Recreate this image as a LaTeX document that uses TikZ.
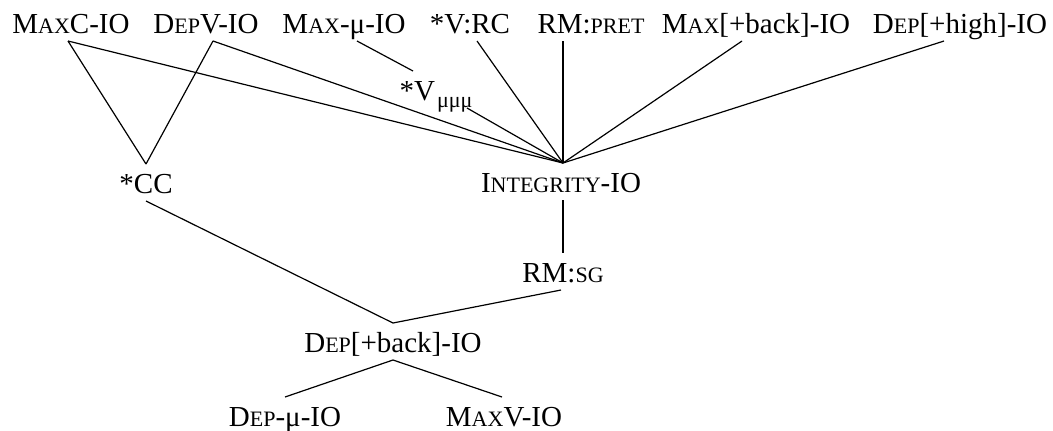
\documentclass[tikz,border=0pt]{standalone}
\usepackage{fontspec}
\setmainfont{Liberation Serif}
\usepackage{tikz}
\newcommand{\smc}[1]{{\fontsize{11}{11}\selectfont #1}}

\begin{document}
\begin{tikzpicture}[x=0.5pt,y=-0.5pt,line width=0.6pt]
    \tikzset{rank node/.style={anchor=base,inner sep=0pt,outer sep=2.5pt,text height=12pt,text depth=1.5pt,font=\fontsize{14.5}{16}\selectfont}}
    \useasboundingbox (0,0) rectangle (1053,430);
    % Nodes
    \node (max_c) [rank node] at (71,33) {M\smc{AX}C-IO};
    \node (dep_v) [rank node] at (206,33) {D\smc{EP}V-IO};
    \node (max_mu) [rank node] at (344,33) {M\smc{AX}-μ-IO};
    \node (v_rc) [rank node] at (470,33) {*V:RC};
    \node (rm_pret) [rank node] at (591,33) {RM:\smc{PRET}};
    \node (max_back) [rank node] at (756,33) {M\smc{AX}[+back]-IO};
    \node (dep_high) [rank node] at (960,33) {D\smc{EP}[+high]-IO};
    \node (v_mmm) [rank node] at (436,100) {*V\kern1pt\raisebox{-0.6ex}{\smc{μμμ}}};
    \node (cc) [rank node] at (146,193) {*CC};
    \node (integrity) [rank node] at (561,192) {I\smc{NTEGRITY}-IO};
    \node (rm_sg) [rank node] at (563,282) {RM:\smc{SG}};
    \node (dep_back) [rank node] at (393,352) {D\smc{EP}[+back]-IO};
    \node (dep_mu) [rank node] at (285,426) {D\smc{EP}-μ-IO};
    \node (max_v) [rank node] at (504,426) {M\smc{AX}V-IO};

    % Lines
    \draw ([xshift=-1.5pt]max_c.south) to (cc.north);
    \draw ([xshift=3.5pt]dep_v.south) to (cc.north);
    \draw ([xshift=-1.5pt]max_c.south) to ([xshift=1pt]integrity.north);
    \draw ([xshift=3.5pt]dep_v.south) to ([xshift=1pt]integrity.north);
    \draw ([xshift=6.5pt]max_mu.south) to ([xshift=-11.5pt]v_mmm.north);
    \draw ([xshift=15.5pt]v_mmm.south) to ([xshift=1pt]integrity.north);
    \draw ([xshift=3.5pt]v_rc.south) to ([xshift=1pt]integrity.north);
    \draw ([xshift=-14pt]rm_pret.south) to ([xshift=1pt]integrity.north);
    \draw ([xshift=-7pt]max_back.south) to ([xshift=1pt]integrity.north);
    \draw ([xshift=-8pt]dep_high.south) to ([xshift=1pt]integrity.north);
    \draw ([xshift=1pt]integrity.south) to (rm_sg.north);
    \draw (cc.south) to (dep_back.north);
    \draw ([xshift=-1pt]rm_sg.south) to (dep_back.north);
    \draw (dep_back.south) to (dep_mu.north);
    \draw (dep_back.south) to ([xshift=-1pt]max_v.north);
\end{tikzpicture}
\end{document}
